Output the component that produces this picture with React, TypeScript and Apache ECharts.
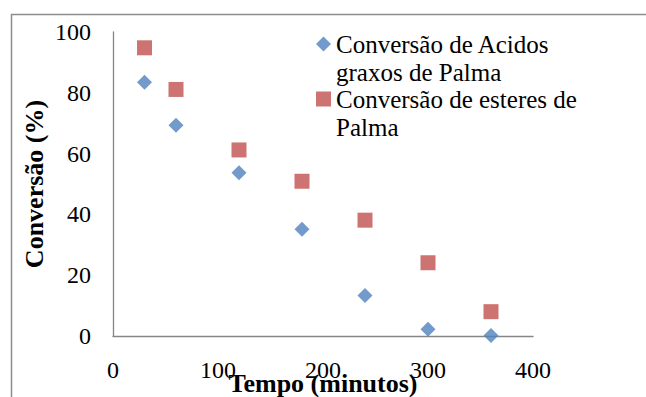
import React, { useEffect, useRef } from "react";
import * as echarts from "echarts";

const timeMinutes = [30, 60, 120, 180, 240, 300, 360];
const acidosValues = [83.5, 69.3, 53.7, 35.1, 13.3, 2.2, 0.2];
const esteresValues = [94.8, 81.1, 61.2, 50.9, 38.1, 24.1, 8.0];
const seriesNames = ["Conversão de Acidos graxos de Palma", "Conversão de esteres de Palma"];
const legendLines: Record<string, string> = {
  "Conversão de Acidos graxos de Palma": "\nConversão de Acidos\ngraxos de Palma",
  "Conversão de esteres de Palma": "\nConversão de esteres de\nPalma",
};
const xTitle = "Tempo (minutos)";
const yTitle = "Conversão (%)";

const FONT = "Liberation Serif";
const BLUE = "#4F81BD";
const RED = "#C0504D";
const AXIS = "#868686";

export default function App() {
  const ref = useRef<HTMLDivElement>(null);
  useEffect(() => {
    if (!ref.current) return;
    const chart = echarts.init(ref.current, null, { renderer: "svg" });
    const labelText = { fontFamily: FONT, fontStyle: "normal", fontWeight: "normal", fontSize: 24, color: "#000" };
    const titleText = { fontFamily: FONT, fontStyle: "normal", fontWeight: "bold", fontSize: 26, color: "#000" };
    const option: any = {
      animation: false,
      backgroundColor: "#ffffff",
      textStyle: { fontFamily: FONT },
      grid: { left: 113, right: 113, top: 32, bottom: 61, containLabel: false, outerBoundsMode: "none" },
      xAxis: {
        type: "value",
        min: 0,
        max: 400,
        interval: 100,
        name: xTitle,
        nameLocation: "middle",
        nameGap: 34,
        nameMoveOverlap: false,
        nameTextStyle: titleText,
        axisLine: { show: true, lineStyle: { color: AXIS, width: 1.3 } },
        axisTick: { show: false },
        splitLine: { show: false },
        axisLabel: { ...labelText, margin: 22 },
      },
      yAxis: {
        type: "value",
        min: 0,
        max: 100,
        interval: 20,
        name: yTitle,
        nameLocation: "middle",
        nameGap: 66,
        nameMoveOverlap: false,
        nameTextStyle: titleText,
        axisLine: { show: true, lineStyle: { color: AXIS, width: 1.3 } },
        axisTick: { show: false },
        splitLine: { show: false },
        axisLabel: { ...labelText, margin: 22 },
      },
      legend: {
        orient: "vertical",
        left: 316,
        top: 2,
        padding: 0,
        itemGap: -29,
        itemWidth: 15,
        itemHeight: 15,
        formatter: (name: string) => legendLines[name] || name,
        textStyle: { ...labelText, fontSize: 25, lineHeight: 28 },
        data: [
          { name: seriesNames[0], icon: "diamond" },
          { name: seriesNames[1], icon: "rect" },
        ],
      },
      graphic: [
        {
          type: "rect",
          silent: true,
          z: -10,
          shape: { x: 11.5, y: 14.5, width: 800, height: 600 },
          style: { fill: "none", stroke: "#8c8c8c", lineWidth: 1.5 },
        },
      ],
      series: [
        {
          name: seriesNames[0],
          type: "scatter",
          symbol: "diamond",
          symbolSize: 15,
          itemStyle: { color: BLUE },
          data: timeMinutes.map((t, i) => [t, acidosValues[i]]),
        },
        {
          name: seriesNames[1],
          type: "scatter",
          symbol: "rect",
          symbolSize: 15,
          itemStyle: { color: RED },
          data: timeMinutes.map((t, i) => [t, esteresValues[i]]),
        },
      ],
    };
    chart.setOption(option);
    return () => chart.dispose();
  }, []);
  return (
    <div
      ref={ref}
      style={{ position: "fixed", left: 0, top: 0, width: 646, height: 397, background: "#fff" }}
    />
  );
}
